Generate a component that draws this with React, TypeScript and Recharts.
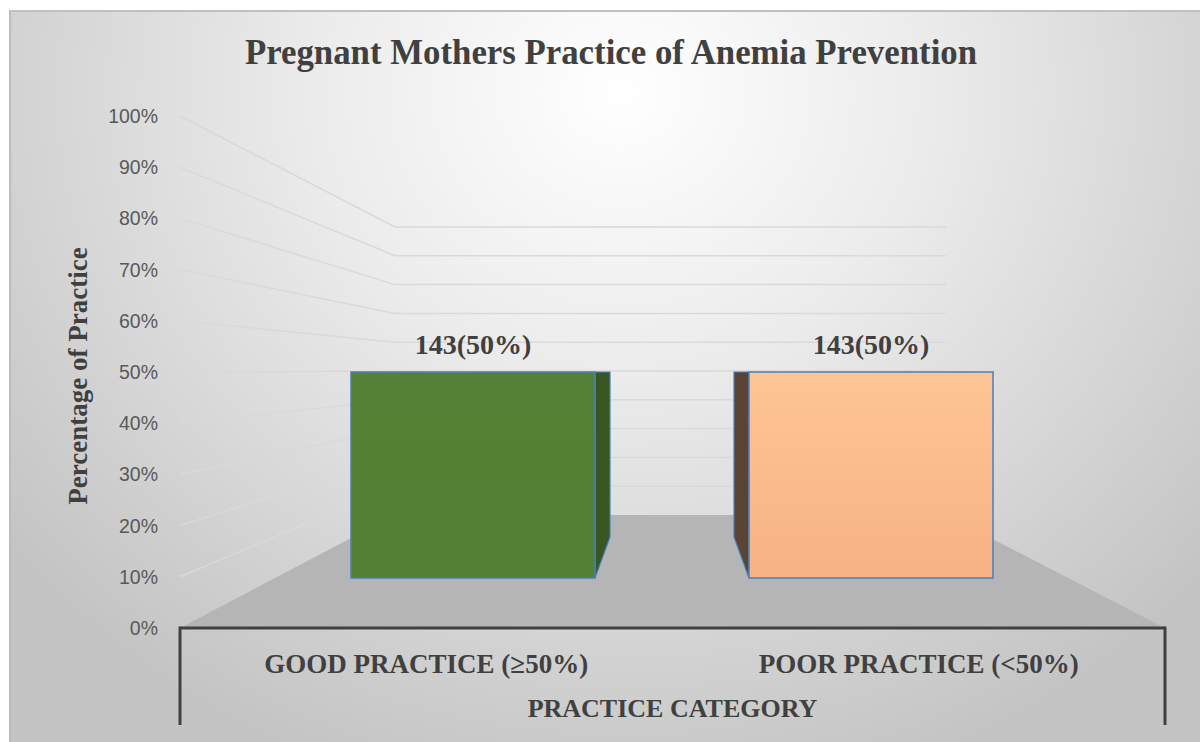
import { Bar, BarChart, CartesianGrid, LabelList, XAxis, YAxis } from 'recharts';

const categories = ['GOOD PRACTICE (≥50%)', 'POOR PRACTICE (<50%)'];
const percents = [50, 50];
const counts = [143, 143];
const yTicks = [0, 10, 20, 30, 40, 50, 60, 70, 80, 90, 100];

const faceColors = ['url(#greenFace)', 'url(#orangeFace)'];
const sideColors = ['#375623', '#5c4434'];

const W = 1200;
const H = 742;
const TOP = 116;
const LEFT = 180;
const RIGHT = 35;
const XAXIS_H = 114;
const PLOT_BOTTOM = H - XAXIS_H; // 628
const PLOT_RIGHT = W - RIGHT;

// 3d look: back wall / floor
const FLOOR_BACK_Y = 515;
const DEPTH_RATIO = 0.5625;
const BACK_LEFT = 395;
const BACK_RIGHT = 946;
const FRONT_INSET = 50;
const SIDE_W = 15;
const SIDE_DROP = 41;

const serif = '"Liberation Serif", "Times New Roman", serif';
const sans = '"Liberation Sans", Arial, sans-serif';

const data = categories.map((name, i) => ({
  name,
  value: percents[i],
  label: `${counts[i]}(${percents[i]}%)`,
}));

function GridLine(props: any) {
  const { x1, y1 } = props;
  if (Math.abs(y1 - PLOT_BOTTOM) < 1) {
    return (
      <polygon
        points={`${x1},${PLOT_BOTTOM} ${BACK_LEFT},${FLOOR_BACK_Y} ${BACK_RIGHT},${FLOOR_BACK_Y} ${PLOT_RIGHT},${PLOT_BOTTOM}`}
        fill="#b5b5b5"
      />
    );
  }
  const yb = FLOOR_BACK_Y - (PLOT_BOTTOM - y1) * DEPTH_RATIO;
  return (
    <polyline
      points={`${x1},${y1} ${BACK_LEFT},${yb} ${BACK_RIGHT},${yb}`}
      fill="none"
      stroke="#d9d9d9"
      strokeWidth={1.5}
    />
  );
}

function Bar3D(props: any) {
  const { x, y, width, height, index } = props;
  const bottom = y + height - FRONT_INSET;
  const sideBottom = bottom - SIDE_DROP;
  const side =
    index === 0
      ? `${x + width},${y} ${x + width + SIDE_W},${y} ${x + width + SIDE_W},${sideBottom} ${x + width},${bottom}`
      : `${x - SIDE_W},${y} ${x},${y} ${x},${bottom} ${x - SIDE_W},${sideBottom}`;
  return (
    <g>
      <polygon points={side} fill={sideColors[index]} stroke="#4a7ebb" strokeWidth={1.2} />
      <rect x={x} y={y} width={width} height={bottom - y} fill={faceColors[index]} stroke="#4a7ebb" strokeWidth={1.5} />
    </g>
  );
}

function CategoryTick(props: any) {
  const { x, y, payload, index } = props;
  const half = (PLOT_RIGHT - LEFT) / categories.length / 2;
  return (
    <g>
      <text x={x} y={y + 37} textAnchor="middle" fontFamily={serif} fontWeight="bold" fontSize={27} fill="#404040">
        {payload.value}
      </text>
      {index === 0 && <line x1={x - half} y1={PLOT_BOTTOM - 1.5} x2={x - half} y2={725} stroke="#404040" strokeWidth={3} />}
      {index === categories.length - 1 && (
        <line x1={x + half} y1={PLOT_BOTTOM - 1.5} x2={x + half} y2={725} stroke="#404040" strokeWidth={3} />
      )}
    </g>
  );
}

export default function App() {
  return (
    <div style={{ position: 'absolute', left: 0, top: 0, width: W, height: H, fontFamily: serif }}>
      <div
        style={{
          position: 'absolute',
          left: 9,
          top: 10,
          right: 0,
          bottom: 0,
          borderTop: '2px solid #c0c0c0',
          borderLeft: '2px solid #bcbcbc',
          background: 'radial-gradient(ellipse 780px 720px at 610px 80px, #ffffff 0%, #ebebeb 40%, #c4c4c4 100%)',
        }}
      />
      <div style={{ position: 'absolute', left: 0, top: 0 }}>
        <BarChart width={W} height={H} data={data} margin={{ top: TOP, right: RIGHT, bottom: 0, left: 0 }}>
          <defs>
            <linearGradient id="greenFace" x1="0" y1="0" x2="0" y2="1">
              <stop offset="0%" stopColor="#548235" />
              <stop offset="100%" stopColor="#528034" />
            </linearGradient>
            <linearGradient id="orangeFace" x1="0" y1="0" x2="0" y2="1">
              <stop offset="0%" stopColor="#ffc594" />
              <stop offset="100%" stopColor="#f6b282" />
            </linearGradient>
          </defs>
          <text x={611} y={64} textAnchor="middle" fontFamily={serif} fontWeight="bold" fontSize={34.8} fill="#404040">
            Pregnant Mothers Practice of Anemia Prevention
          </text>
          <CartesianGrid vertical={false} horizontal={(p: any) => <GridLine key={p.key} {...p} />} />
          <XAxis
            dataKey="name"
            height={XAXIS_H}
            axisLine={{ stroke: '#404040', strokeWidth: 3 }}
            tickLine={false}
            tick={<CategoryTick />}
            label={{
              value: 'PRACTICE CATEGORY',
              position: 'insideBottom',
              offset: 25,
              style: { fontFamily: serif, fontWeight: 'bold', fontSize: 26, fill: '#404040' },
            }}
          />
          <XAxis xAxisId="bars" dataKey="name" hide padding={{ left: 94, right: 95 }} />
          <YAxis
            width={LEFT}
            domain={[0, 100]}
            ticks={yTicks}
            tickFormatter={(v) => `${v}%`}
            axisLine={false}
            tickLine={false}
            tickSize={0}
            tickMargin={22}
            tick={{ fill: '#595959', fontSize: 19.5, fontFamily: sans }}
            label={{
              value: 'Percentage of Practice',
              content: () => (
                <text
                  x={87}
                  y={376}
                  transform="rotate(-90, 87, 376)"
                  textAnchor="middle"
                  fontFamily={serif}
                  fontWeight="bold"
                  fontSize={27}
                  fill="#404040"
                >
                  Percentage of Practice
                </text>
              ),
            }}
          />
          <Bar dataKey="value" xAxisId="bars" barSize={244} shape={<Bar3D />} isAnimationActive={false}>
            <LabelList
              dataKey="label"
              position="top"
              offset={18}
              style={{ fontFamily: serif, fontWeight: 'bold', fontSize: 28, fill: '#404040' }}
            />
          </Bar>
        </BarChart>
      </div>
    </div>
  );
}
